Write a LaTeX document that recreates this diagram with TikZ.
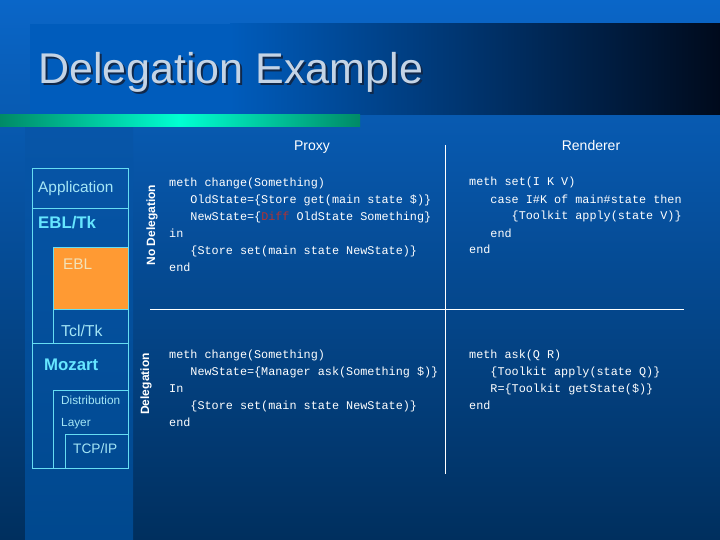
\documentclass[tikz,border=0pt]{standalone}
\usepackage{fontspec}
\setmainfont{Liberation Sans}
\setmonofont{Liberation Mono}
\usetikzlibrary{positioning}

\definecolor{bgtop}{HTML}{0A66C8}
\definecolor{bgbot}{HTML}{002F5E}
\definecolor{panelbot}{HTML}{00488E}
\definecolor{bandleft}{HTML}{005CBC}
\definecolor{bandright}{HTML}{000A1C}
\definecolor{greendark}{HTML}{008A66}
\definecolor{greenlight}{HTML}{00FFD2}
\definecolor{titlecol}{HTML}{C4D4E6}
\definecolor{titleshadow}{HTML}{10284A}
\definecolor{boxline}{HTML}{66DDF2}
\definecolor{lblpale}{HTML}{A4E6F6}
\definecolor{lblbold}{HTML}{66E6FF}
\definecolor{eblfill}{HTML}{FF9A33}
\definecolor{ebltext}{HTML}{F2E2B8}
\definecolor{diffred}{HTML}{B23232}

\newfontfamily\codefont{Liberation Mono}
\newcommand{\ind}{\phantom{xxx}}

\begin{document}
\begin{tikzpicture}[x=1pt, y=-1pt,
    stack/.style={draw=boxline, line width=0.8pt},
    lbl/.style={inner sep=0pt, anchor=base west, text=lblpale},
    side/.style={inner sep=0pt, anchor=base, rotate=90, text=white, font=\fontsize{12}{12}\selectfont\bfseries},
    code/.style={inner sep=0pt, anchor=base west, align=left, text=white, font=\fontsize{11.8}{17}\selectfont\codefont},
    divide/.style={draw=white, line width=0.8pt}]
    \useasboundingbox (0,0) rectangle (720,540);

    % background
    \shade[top color=bgtop, bottom color=bgbot] (0,0) rectangle (720,540);
    \shade[top color=bgtop!70!bgbot, bottom color=panelbot] (25,127) rectangle (133,540);
    \fill[bandleft] (30,24) rectangle (230,115);
    \shade[left color=bandleft, right color=bandright] (230,24) rectangle (720,115);
    \shade[left color=greendark, right color=greendark, middle color=greenlight] (0,115) rectangle (360,127);

    % title
    \node[anchor=base west, inner sep=0pt, text=titleshadow, font=\fontsize{43}{43}\selectfont] at (40,86) {Delegation Example};
    \node[anchor=base west, inner sep=0pt, text=titlecol, font=\fontsize{43}{43}\selectfont] (title) at (38,84) {Delegation Example};

    % layer stack
    \draw[stack] (32,168) rectangle (128,468);
    \draw[stack] (32,208) -- (128,208);
    \draw[stack, fill=eblfill] (53,247) rectangle (128,309);
    \draw[stack] (53,309) rectangle (128,343);
    \draw[stack] (32,343) -- (53,343);
    \draw[stack] (53,390) rectangle (128,468);
    \draw[stack] (65,434) rectangle (128,468);

    \node[lbl, font=\fontsize{15.4}{15.4}\selectfont] (app) at (38,193) {Application};
    \node[lbl, text=lblbold, font=\fontsize{16.8}{16.8}\selectfont\bfseries] (ebltk) at (38,229) {EBL/Tk};
    \node[lbl, text=ebltext, font=\fontsize{15.4}{15.4}\selectfont] (ebl) at (63,269) {EBL};
    \node[lbl, font=\fontsize{15.8}{15.8}\selectfont] (tcltk) at (61,336) {Tcl/Tk};
    \node[lbl, text=lblbold, font=\fontsize{16.8}{16.8}\selectfont\bfseries] (mozart) at (44,370) {Mozart};
    \node[lbl, font=\fontsize{11.8}{11.8}\selectfont] (dist) at (61,404) {Distribution};
    \node[lbl, font=\fontsize{11.8}{11.8}\selectfont] (layer) at (61,426) {Layer};
    \node[lbl, font=\fontsize{13.7}{13.7}\selectfont] (tcpip) at (73,453) {TCP/IP};

    \node[side] (nodel) at (155,225) {No Delegation};
    \node[side] (del) at (149,384) {Delegation};

    % headers and dividers
    \node[anchor=base, inner sep=0pt, text=white, font=\fontsize{14}{14}\selectfont] (proxy) at (312,151) {Proxy};
    \node[anchor=base, inner sep=0pt, text=white, font=\fontsize{14}{14}\selectfont] (renderer) at (591,151) {Renderer};
    \coordinate (vtop) at (445,145);
    \coordinate (vbot) at (445,474);
    \coordinate (hleft) at (150,309);
    \coordinate (hright) at (684,309);
    \draw[divide] (vtop) -- (vbot);
    \draw[divide] (hleft) -- (hright);

    % code (base = last line)
    \node[code] (proxyA) at (169,271) {meth change(Something)\\
        \ind OldState=\{Store get(main state \$)\}\\
        \ind NewState=\{\textcolor{diffred}{Diff} OldState Something\}\\
        in\\
        \ind \{Store set(main state NewState)\}\\
        end};
    \node[code] (rendA) at (469,254) {meth set(I K V)\\
        \ind case I\#K of main\#state then\\
        \ind\ind \{Toolkit apply(state V)\}\\
        \ind end\\
        end};
    \node[code] (proxyB) at (169,426) {meth change(Something)\\
        \ind NewState=\{Manager ask(Something \$)\}\\
        In\\
        \ind \{Store set(main state NewState)\}\\
        end};
    \node[code] (rendB) at (469,409) {meth ask(Q R)\\
        \ind \{Toolkit apply(state Q)\}\\
        \ind R=\{Toolkit getState(\$)\}\\
        end};
\end{tikzpicture}
\end{document}
